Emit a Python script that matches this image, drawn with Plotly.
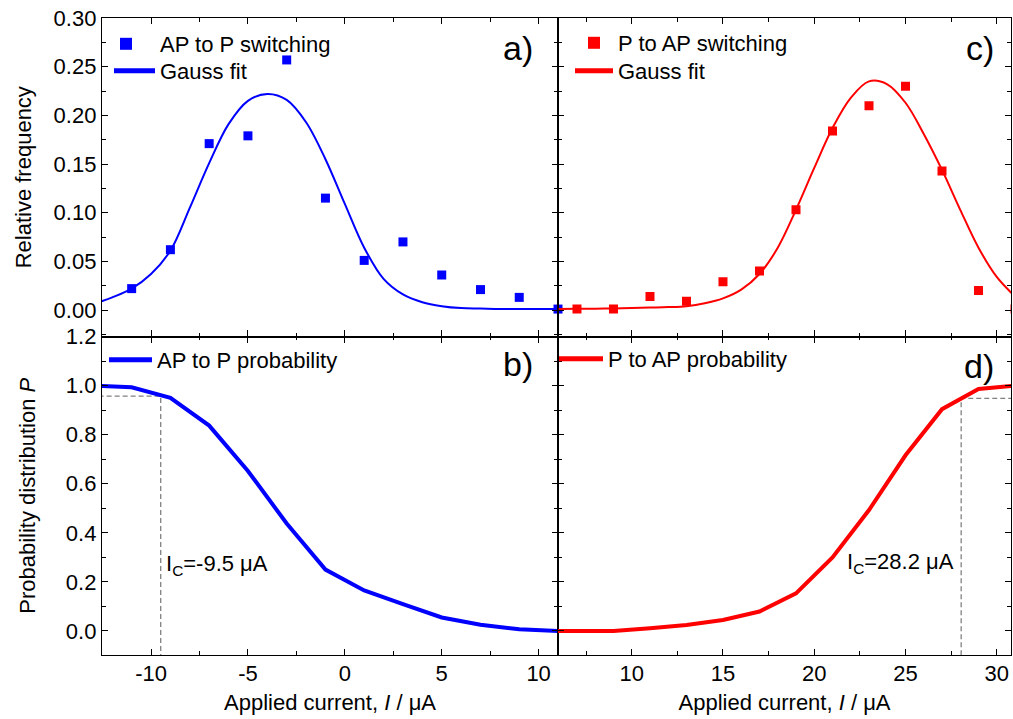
import plotly.graph_objects as go
from plotly.subplots import make_subplots

# switching histograms (relative frequency)
ap_current = [-11, -9, -7, -5, -3, -1, 1, 3, 5, 7, 9, 11]
ap_freq = [0.022, 0.062, 0.171, 0.179, 0.257, 0.115, 0.051, 0.070, 0.036, 0.021, 0.013, 0.001]

pap_current = [7, 9, 11, 13, 15, 17, 19, 21, 23, 25, 27, 29, 31]
pap_freq = [0.001, 0.001, 0.014, 0.009, 0.029, 0.040, 0.103, 0.184, 0.210, 0.230, 0.143, 0.020, 0.001]

# Gauss fit curves
ap_fit_x = [-13, -12, -11, -10, -9, -8, -7, -6, -5, -4, -3, -2, -1, 0, 1, 2, 3, 4, 5, 6, 7, 8, 9, 10, 11]
ap_fit_y = [0.006, 0.013, 0.022, 0.037, 0.061, 0.105, 0.151, 0.191, 0.215, 0.222, 0.216, 0.193, 0.155, 0.109, 0.064, 0.032, 0.016, 0.008, 0.004, 0.002, 0.0015, 0.001, 0.001, 0.001, 0.001]

pap_fit_x = [6, 7, 8, 9, 10, 11, 12, 13, 14, 15, 16, 17, 18, 19, 20, 21, 22, 23, 24, 25, 26, 27, 28, 29, 30, 31]
pap_fit_y = [0.001, 0.0012, 0.0014, 0.0016, 0.002, 0.0025, 0.003, 0.004, 0.007, 0.012, 0.021, 0.037, 0.064, 0.103, 0.146, 0.187, 0.218, 0.235, 0.232, 0.213, 0.181, 0.144, 0.103, 0.064, 0.034, 0.014]

# cumulative switching probability
ap_prob_x = [-13, -11, -9, -7, -5, -3, -1, 1, 3, 5, 7, 9, 11]
ap_prob = [1.0, 0.993, 0.950, 0.837, 0.652, 0.438, 0.250, 0.165, 0.109, 0.055, 0.025, 0.007, 0.0]

pap_prob_x = [5, 7, 9, 11, 13, 15, 17, 19, 21, 23, 25, 27, 29, 31]
pap_prob = [0.0, 0.0, 0.0, 0.011, 0.024, 0.045, 0.079, 0.153, 0.300, 0.493, 0.716, 0.904, 0.986, 1.0]

# critical currents
ic_ap, p_ic_ap = -9.5, 0.957
ic_pap, p_ic_pap = 28.05, 0.948

left_ticks = [-10, -5, 0, 5, 10]
left_ticktext = ["-10", "-5", "0", "5", "10"]
right_ticks = [10, 15, 20, 25, 30]

left_range = [-12.53, 11.0]
right_range = [5.96, 30.78]
freq_range = [-0.0272, 0.3001]
prob_range = [-0.098, 1.2001]

W, H = 1013, 719
ML, MR, MT, MB = 102, 2, 18, 64
FONT = "Liberation Sans, Arial, sans-serif"
BLUE, RED, GREY = "#0000ff", "#ff0000", "#808080"


def paper_x(p):
    return (p - ML) / (W - ML - MR)


def paper_y(p):
    return (H - MB - p) / (H - MT - MB)


fig = make_subplots(rows=2, cols=2, column_widths=[456, 453],
                    horizontal_spacing=0, vertical_spacing=0)

fig.add_trace(go.Scatter(x=ap_current, y=ap_freq, mode="markers", name="AP to P switching",
                         marker=dict(symbol="square", size=9, color=BLUE),
                         cliponaxis=False, legend="legend"), row=1, col=1)
fig.add_trace(go.Scatter(x=ap_fit_x, y=ap_fit_y, mode="lines", name="Gauss fit",
                         line=dict(color=BLUE, width=2, shape="spline"), legend="legend2"), row=1, col=1)

fig.add_trace(go.Scatter(x=pap_current, y=pap_freq, mode="markers", name="P to AP switching",
                         marker=dict(symbol="square", size=9, color=RED),
                         legend="legend3"), row=1, col=2)
fig.add_trace(go.Scatter(x=pap_fit_x, y=pap_fit_y, mode="lines", name="Gauss fit",
                         line=dict(color=RED, width=2, shape="spline"), legend="legend4"), row=1, col=2)

fig.add_trace(go.Scatter(x=[left_range[0] - 1, ic_ap, ic_ap], y=[p_ic_ap, p_ic_ap, prob_range[0]],
                         mode="lines", line=dict(color=GREY, width=1.3, dash="5px,3px"),
                         showlegend=False), row=2, col=1)
fig.add_trace(go.Scatter(x=ap_prob_x, y=ap_prob, mode="lines", name="AP to P probability",
                         line=dict(color=BLUE, width=4), legend="legend5"), row=2, col=1)

fig.add_trace(go.Scatter(x=[right_range[1] + 1, ic_pap, ic_pap], y=[p_ic_pap, p_ic_pap, prob_range[0]],
                         mode="lines", line=dict(color=GREY, width=1.3, dash="5px,3px"),
                         showlegend=False), row=2, col=2)
fig.add_trace(go.Scatter(x=pap_prob_x, y=pap_prob, mode="lines", name="P to AP probability",
                         line=dict(color=RED, width=4), legend="legend6"), row=2, col=2)

axis_style = dict(showline=True, linecolor="black", linewidth=1.3, mirror="allticks",
                  ticks="inside", ticklen=6, tickwidth=1.3, tickcolor="black",
                  showgrid=False, zeroline=False, automargin=False,
                  tickfont=dict(size=22, color="black", family=FONT))

xlabel = "Applied current, <i>I</i> / μA"
for r in (1, 2):
    fig.update_xaxes(axis_style, row=r, col=1, range=left_range, tickvals=left_ticks,
                     ticktext=left_ticktext, showticklabels=(r == 2), ticklabelstandoff=-2,
                     minor=dict(ticks="inside", ticklen=3.5, tickwidth=1.3, tickcolor="black", dtick=2.5, tick0=0))
    fig.update_xaxes(axis_style, row=r, col=2, range=right_range, tickvals=right_ticks,
                     showticklabels=(r == 2), ticklabelstandoff=-2,
                     minor=dict(ticks="inside", ticklen=3.5, tickwidth=1.3, tickcolor="black", dtick=2.5, tick0=0))
for c in (1, 2):
    fig.update_xaxes(row=2, col=c, title=dict(text=xlabel, font=dict(size=22, color="black", family=FONT), standoff=10))
    fig.update_yaxes(axis_style, row=1, col=c, range=freq_range, dtick=0.05, tick0=0, tickformat=".2f",
                     showticklabels=(c == 1),
                     minor=dict(ticks="inside", ticklen=3.5, tickwidth=1.3, tickcolor="black", dtick=0.025, tick0=0))
    fig.update_yaxes(axis_style, row=2, col=c, range=prob_range, dtick=0.2, tick0=0, tickformat=".1f",
                     showticklabels=(c == 1),
                     minor=dict(ticks="inside", ticklen=3.5, tickwidth=1.3, tickcolor="black", dtick=0.1, tick0=0))

fig.update_yaxes(row=1, col=1, title=dict(text="Relative frequency", standoff=15,
                                          font=dict(size=22, color="black", family=FONT)))
fig.update_yaxes(row=2, col=1, title=dict(text="Probability distribution <i>P</i>", standoff=24,
                                          font=dict(size=22, color="black", family=FONT)))

legend_style = dict(xanchor="left", yanchor="middle",
                    bgcolor="rgba(0,0,0,0)", borderwidth=0, itemsizing="constant",
                    font=dict(size=22, color="black", family=FONT), tracegroupgap=0)

# (left pixel of legend box, row centre, symbol width)
legend_places = [(92, 44, 58), (109, 71, 41), (570, 43, 38), (570, 71, 38), (104, 360, 43), (554, 359, 44)]
legends = {}
for i, (lx, ly, iw) in enumerate(legend_places):
    key = "legend" if i == 0 else f"legend{i + 1}"
    legends[key] = dict(legend_style, x=paper_x(lx), y=paper_y(ly), itemwidth=iw)

fig.update_layout(
    width=W, height=H,
    margin=dict(l=ML, r=MR, t=MT, b=MB, autoexpand=False),
    paper_bgcolor="white", plot_bgcolor="white",
    font=dict(family=FONT, color="black", size=22),
    **legends,
)

for label, xp, yp in [("a)", 518, 48), ("b)", 518, 364), ("c)", 980, 48), ("d)", 979, 366)]:
    fig.add_annotation(text=label, x=paper_x(xp), y=paper_y(yp), xref="paper", yref="paper",
                       xanchor="center", yanchor="middle",
                       showarrow=False, font=dict(size=34, color="black", family=FONT))

fig.add_annotation(text="I<sub>C</sub>=-9.5 μA", x=-9.35, y=0.27, xref="x3", yref="y3",
                   xanchor="left", showarrow=False, font=dict(size=22, color="black", family=FONT))
fig.add_annotation(text="I<sub>C</sub>=28.2 μA", x=27.75, y=0.277, xref="x4", yref="y4",
                   xanchor="right", showarrow=False, font=dict(size=22, color="black", family=FONT))

fig.write_html("out.html", config={"displayModeBar": False},
               post_script="document.body.style.margin='0';")
